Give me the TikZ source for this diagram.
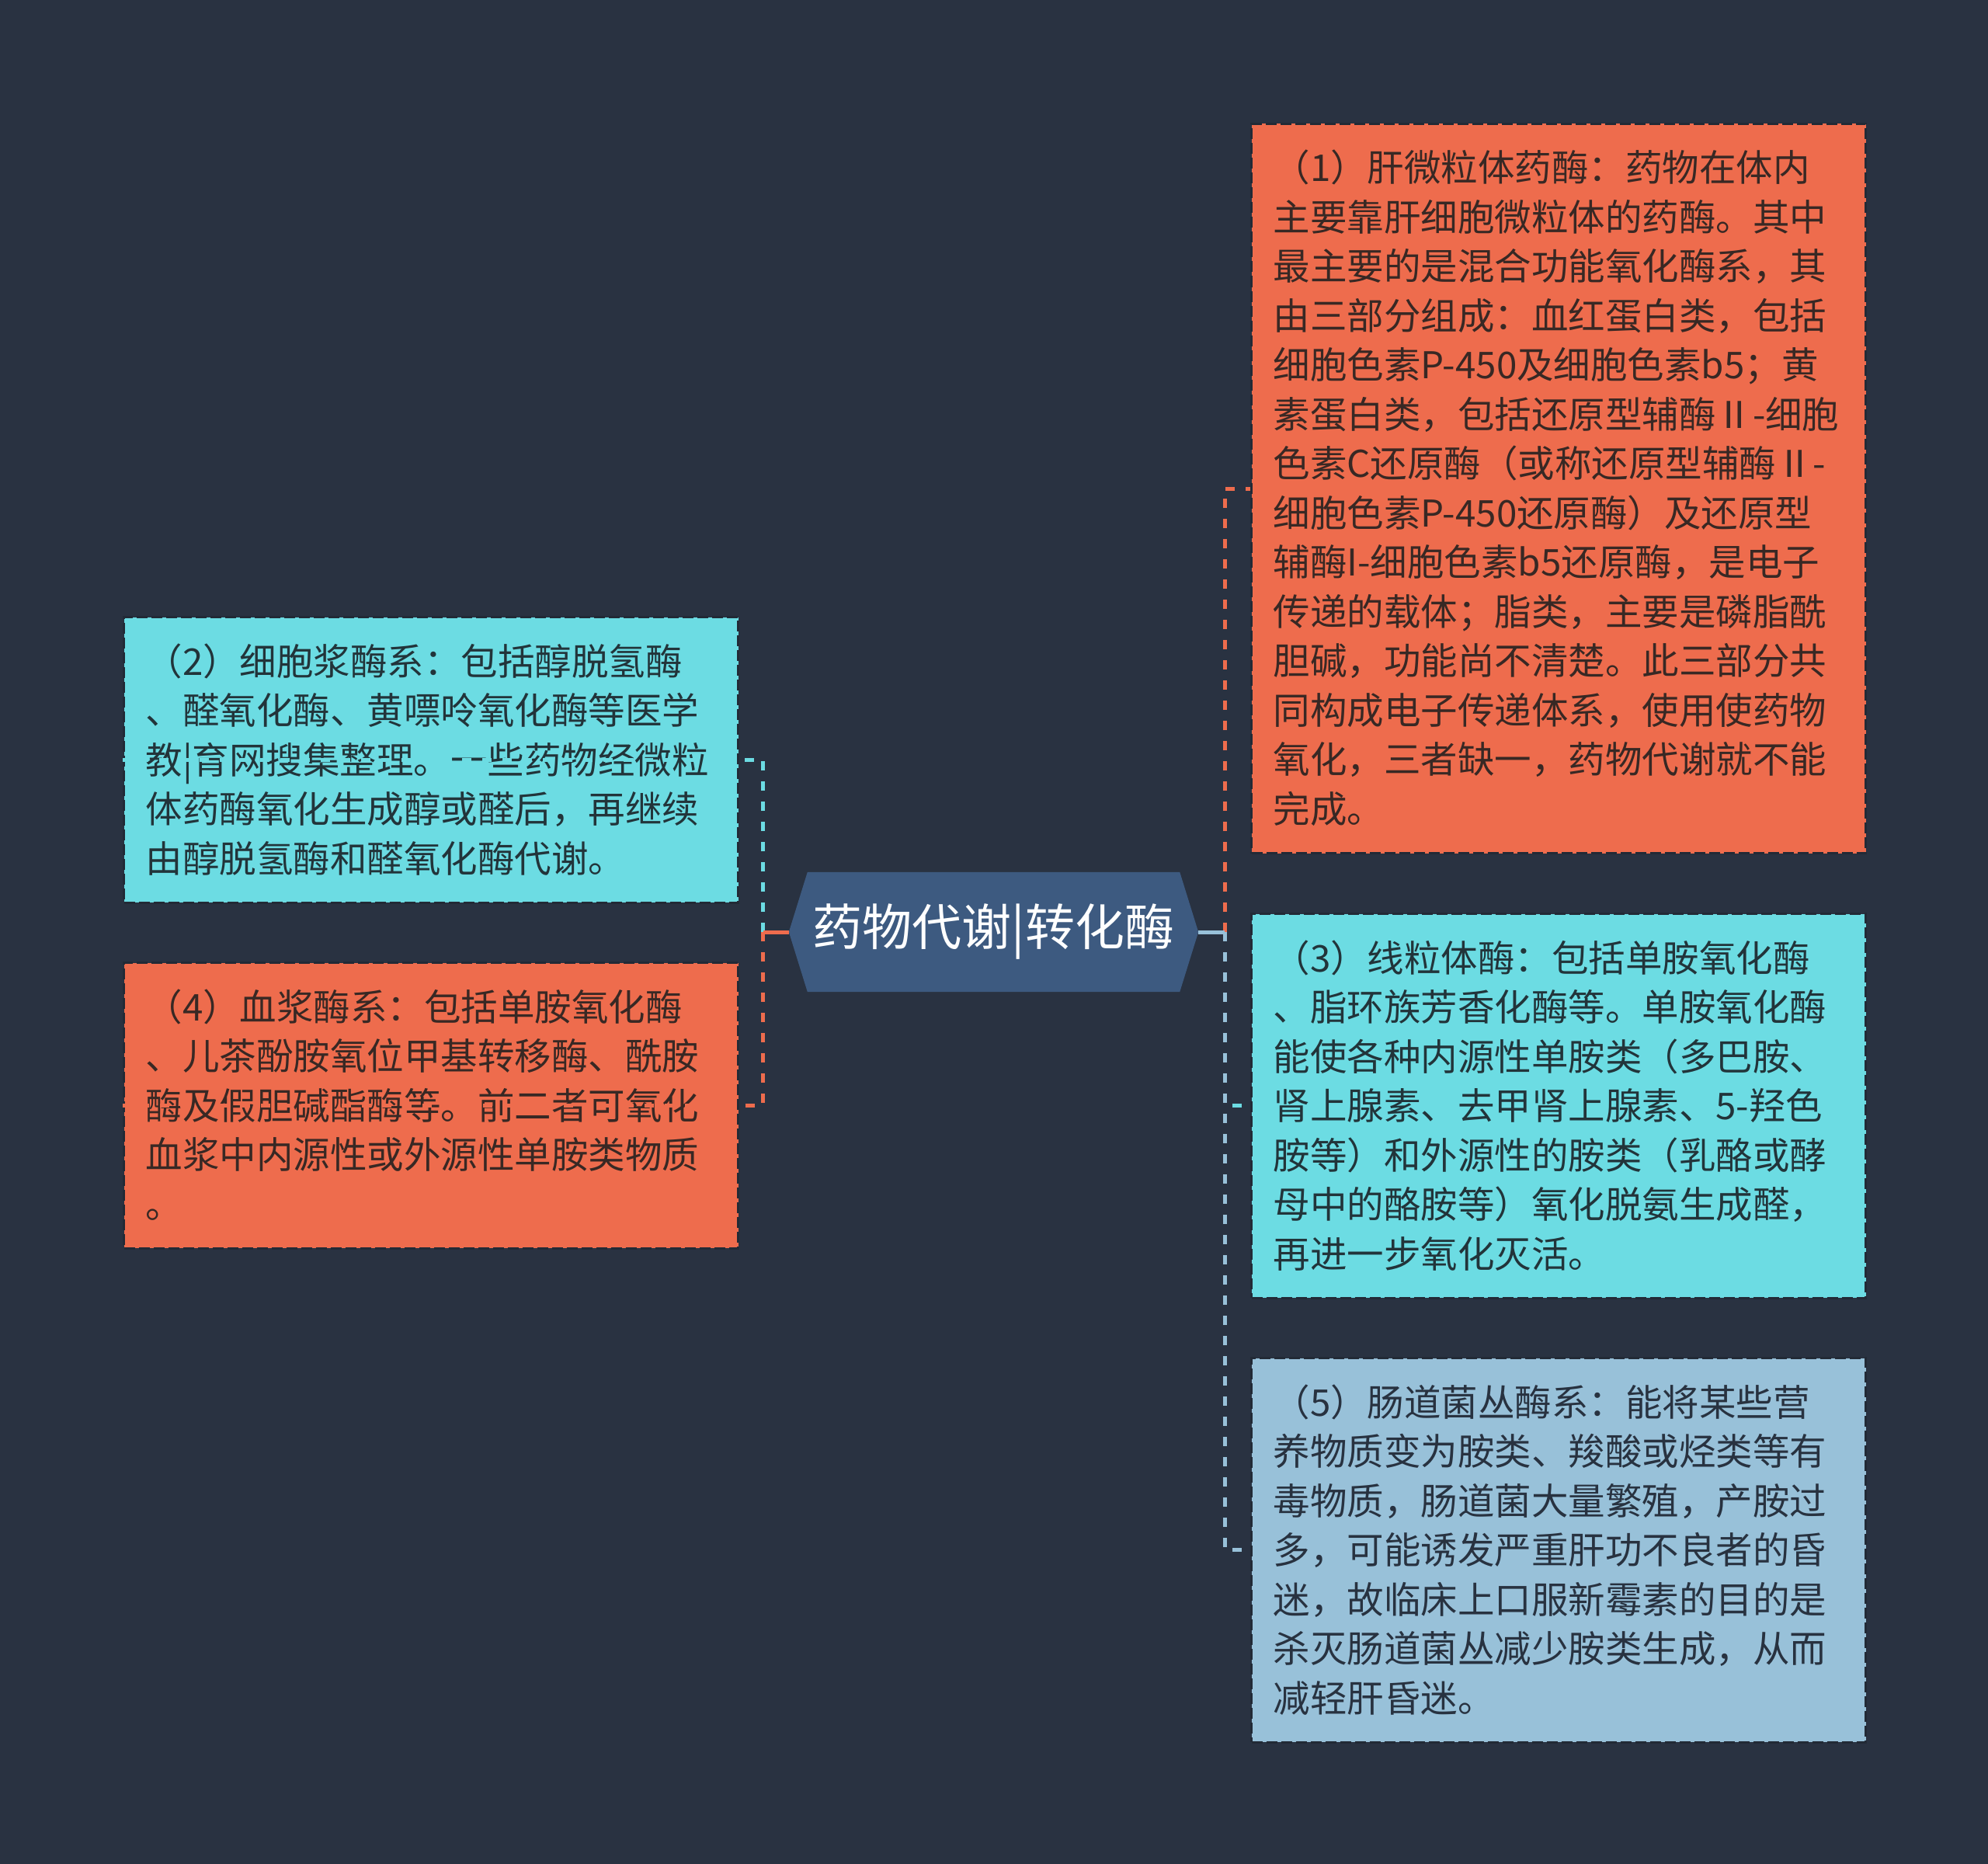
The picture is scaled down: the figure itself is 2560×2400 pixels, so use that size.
\documentclass[tikz,border=0pt]{standalone}
\usepackage{fontspec}
\setmainfont{Noto Sans CJK SC}
\usetikzlibrary{calc}
\definecolor{bgc}{HTML}{293241}
\definecolor{orangec}{HTML}{EE6C4D}
\definecolor{cyanc}{HTML}{6CDCE3}
\definecolor{lbluec}{HTML}{98C1D9}
\definecolor{centerc}{HTML}{3D5A80}
\definecolor{borderc}{HTML}{222A36}
\definecolor{otext}{HTML}{382824}
\definecolor{ctext}{HTML}{22343A}
\definecolor{ltext}{HTML}{283240}
\newcommand\bst{\rule[-14pt]{0pt}{63.5pt}}
\tikzset{
  box/.style={rectangle, anchor=north west, text width=735pt, inner xsep=28pt, inner ysep=25pt,
    align=left, font=\fontsize{47.5pt}{63.5pt}\selectfont, draw=borderc, line width=3pt,
    dash pattern=on 14pt off 5pt},
  obox/.style={box, fill=orangec, text=otext},
  cbox/.style={box, fill=cyanc, text=ctext},
  lbox/.style={box, fill=lbluec, text=ltext},
  link/.style={line width=5pt, dash pattern=on 12pt off 14pt},
  stem/.style={line width=5pt},
  hexframe/.style={rectangle, minimum width=479pt, minimum height=154pt, inner sep=0pt},
  titletext/.style={text=white, font=\fontsize{64pt}{70pt}\selectfont, inner sep=0pt}
}
\begin{document}
\begin{tikzpicture}[x=1pt,y=-1pt]
\fill[bgc] (0,0) rectangle (2560,2400);
\useasboundingbox (0,0) rectangle (2560,2400);

% boxes
\node[obox] (b1) at (1610,158) {\bst（1）肝微粒体药酶：药物在体内\\
\bst 主要靠肝细胞微粒体的药酶。其中\\
\bst 最主要的是混合功能氧化酶系，其\\
\bst 由三部分组成：血红蛋白类，包括\\
\bst 细胞色素P-450及细胞色素b5；黄\\
\bst 素蛋白类，包括还原型辅酶Ⅱ-细胞\\
\bst 色素C还原酶（或称还原型辅酶Ⅱ-\\
\bst 细胞色素P-450还原酶）及还原型\\
\bst 辅酶I-细胞色素b5还原酶，是电子\\
\bst 传递的载体；脂类，主要是磷脂酰\\
\bst 胆碱，功能尚不清楚。此三部分共\\
\bst 同构成电子传递体系，使用使药物\\
\bst 氧化，三者缺一，药物代谢就不能\\
\bst 完成。};

\node[cbox] (b3) at (1610,1175) {\bst（3）线粒体酶：包括单胺氧化酶\\
\bst 、脂环族芳香化酶等。单胺氧化酶\\
\bst 能使各种内源性单胺类（多巴胺、\\
\bst 肾上腺素、去甲肾上腺素、5-羟色\\
\bst 胺等）和外源性的胺类（乳酪或酵\\
\bst 母中的酪胺等）氧化脱氨生成醛，\\
\bst 再进一步氧化灭活。};

\node[lbox] (b5) at (1610,1747) {\bst（5）肠道菌丛酶系：能将某些营\\
\bst 养物质变为胺类、羧酸或烃类等有\\
\bst 毒物质，肠道菌大量繁殖，产胺过\\
\bst 多，可能诱发严重肝功不良者的昏\\
\bst 迷，故临床上口服新霉素的目的是\\
\bst 杀灭肠道菌丛减少胺类生成，从而\\
\bst 减轻肝昏迷。};

\node[cbox] (b2) at (158,793) {\bst（2）细胞浆酶系：包括醇脱氢酶\\
\bst 、醛氧化酶、黄嘌呤氧化酶等医学\\
\bst 教|育网搜集整理。一些药物经微粒\\
\bst 体药酶氧化生成醇或醛后，再继续\\
\bst 由醇脱氢酶和醛氧化酶代谢。};

\node[obox] (b4) at (158,1238) {\bst（4）血浆酶系：包括单胺氧化酶\\
\bst 、儿茶酚胺氧位甲基转移酶、酰胺\\
\bst 酶及假胆碱酯酶等。前二者可氧化\\
\bst 血浆中内源性或外源性单胺类物质\\
\bst 。};

% center hexagon
\node[hexframe] (c) at (1279.5,1200) {};
\coordinate (cL) at ($(c.west)+(-24,0)$);
\coordinate (cR) at ($(c.east)+(24,0)$);
\fill[centerc] (c.north west) -- (c.north east) -- (cR) -- (c.south east) -- (c.south west) -- (cL) -- cycle;
\node[titletext] (ct) at (c.center) {药物代谢|转化酶};

\coordinate (jL) at ($(cL)+(-33,0)$);
\coordinate (jR) at ($(cR)+(34,0)$);

% left connectors
\draw[link, cyanc] (jL) |- (b2.west);
\draw[link, orangec] (jL) |- (b4.west);
\draw[stem, orangec] (cL) -- (jL);

% right connectors
\draw[link, orangec] (jR) |- (b1.west);
\draw[link, cyanc] (jR) |- (b3.west);
\draw[link, lbluec] (jR) |- (b5.west);
\draw[stem, lbluec] (cR) -- (jR);
\end{tikzpicture}
\end{document}
